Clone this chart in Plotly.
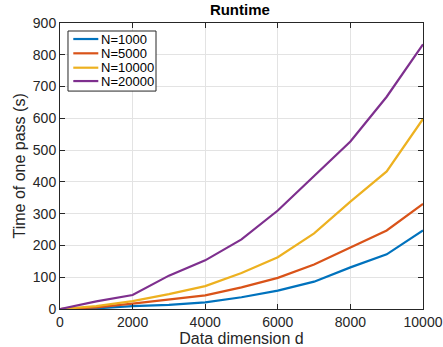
import plotly.graph_objects as go

d = [0, 1000, 2000, 3000, 4000, 5000, 6000, 7000, 8000, 9000, 10000]
n1000 = [0, 2, 9, 13, 21, 37, 58, 86, 131, 172, 247]
n5000 = [0, 5, 17, 29, 43, 68, 98, 140, 194, 247, 331]
n10000 = [0, 9, 25, 47, 72, 113, 163, 238, 338, 433, 598]
n20000 = [0, 24, 44, 105, 153, 219, 310, 417, 527, 668, 833]

names = ["N=1000", "N=5000", "N=10000", "N=20000"]
series = [n1000, n5000, n10000, n20000]
colors = ["#0072BD", "#D95319", "#EDB120", "#7E2F8E"]

fig = go.Figure()
for nm, ys, c in zip(names, series, colors):
    fig.add_trace(go.Scatter(x=d, y=ys, mode="lines", name=nm,
                             line=dict(color=c, width=2.2), showlegend=False))

axcommon = dict(showline=True, linecolor="#262626", linewidth=1, mirror="ticks",
                ticks="inside", ticklen=5, tickcolor="#262626",
                showgrid=True, gridcolor="#e3e3e3", gridwidth=1, zeroline=False,
                automargin=False, tickformat="d",
                tickfont=dict(size=14, color="#262626"))

# Compact legend box (MATLAB style) drawn in paper coordinates
shapes = [dict(type="rect", xref="paper", yref="paper", x0=0.022, x1=0.2645,
               y0=0.762, y1=0.972, line=dict(color="#262626", width=1),
               fillcolor="white", layer="above")]
annotations = []
row_y = [0.944, 0.894, 0.8437, 0.797]
for nm, c, yy in zip(names, colors, row_y):
    shapes.append(dict(type="line", xref="paper", yref="paper", x0=0.0366, x1=0.1055,
                       y0=yy, y1=yy, line=dict(color=c, width=2.2), layer="above"))
    annotations.append(dict(text=nm, xref="paper", yref="paper", x=0.1074, y=yy,
                            xanchor="left", yanchor="middle", showarrow=False,
                            font=dict(size=13, color="black")))

# y-axis title placed like MATLAB's
annotations.append(dict(text="Time of one pass (s)", xref="paper", yref="paper",
                        x=-0.1143, y=0.5, xanchor="center", yanchor="middle",
                        textangle=-90, showarrow=False,
                        font=dict(size=16, color="#262626")))

fig.update_layout(
    width=443, height=347,
    margin=dict(l=60, r=20, t=23, b=38),
    paper_bgcolor="white", plot_bgcolor="white",
    font=dict(family="Liberation Sans, Arial, sans-serif", color="#262626"),
    title=dict(text="<b>Runtime</b>", x=0.5415, xanchor="center",
               y=0.988, yanchor="top", font=dict(size=15, color="black")),
    xaxis=dict(range=[0, 10000], tickvals=[0, 2000, 4000, 6000, 8000, 10000],
               title=dict(text="Data dimension d", font=dict(size=16)), **axcommon),
    yaxis=dict(range=[0, 900], tickvals=list(range(0, 901, 100)), **axcommon),
    shapes=shapes,
    annotations=annotations,
    showlegend=False,
)

fig.write_html("out.html", config={"displayModeBar": False},
               post_script="document.body.style.margin='0';")
